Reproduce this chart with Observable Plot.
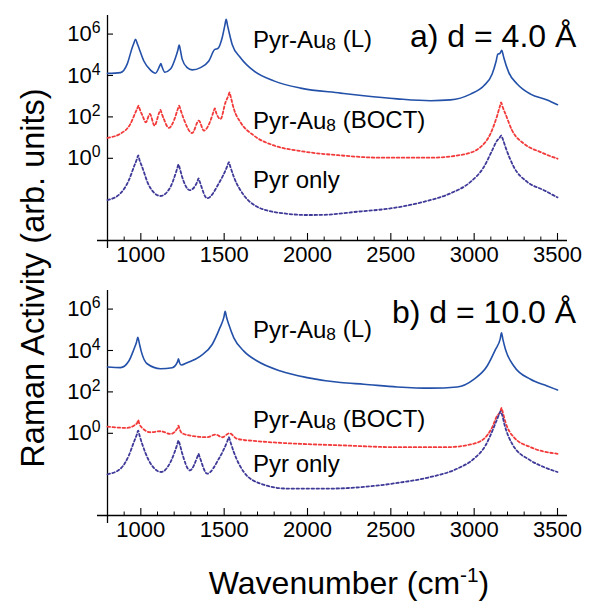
<!DOCTYPE html>
<html><head><meta charset="utf-8">
<script src="https://cdn.jsdelivr.net/npm/d3@7"></script>
<script src="https://cdn.jsdelivr.net/npm/@observablehq/plot@0.6"></script>
<style>
body{margin:0;background:#fff;}
#wrap{position:relative;width:589px;height:603px;font-family:"Liberation Sans",Arial,Helvetica,sans-serif;}
.panel{position:absolute;left:0;}
#overlay{position:absolute;left:0;top:0;pointer-events:none;}
</style></head>
<body><div id="wrap"></div>
<script>
// ---------- data (wavenumber cm-1, log10 of Raman activity) ----------
const a_L_w  = [800,878,918,948,958,968,978,988,1018,1058,1088,1114,1120,1126,1144,1178,1208,1222,1230,1238,1248,1278,1308,1358,1408,1444,1462,1488,1504,1512,1520,1528,1548,1598,1678,1798,1958,2198,2338,2538,2738,2858,2978,3058,3108,3132,3142,3154,3166,3172,3178,3208,3258,3338,3438,3500];
const a_L_lg = [4.10,4.14,4.55,5.34,5.56,5.75,5.56,5.34,4.70,4.26,4.11,4.48,4.58,4.45,4.16,4.31,4.86,5.22,5.47,5.20,4.79,4.38,4.27,4.38,4.70,5.26,5.30,5.82,6.42,6.71,6.42,6.14,5.50,4.86,4.22,3.74,3.39,3.15,3.02,2.87,2.78,2.82,3.10,3.50,4.07,4.70,5.03,5.06,5.22,5.05,4.86,4.14,3.59,3.10,2.82,2.59];

const a_B_w  = [800,878,938,968,978,986,994,1010,1030,1054,1082,1110,1118,1126,1138,1168,1202,1222,1230,1238,1254,1308,1348,1378,1418,1436,1444,1452,1478,1508,1524,1532,1540,1558,1598,1678,1798,1958,2198,2438,2738,2938,3038,3098,3138,3154,3162,3170,3188,3228,3298,3398,3500];
const a_B_lg = [0.99,1.19,1.67,2.22,2.40,2.54,2.36,2.06,1.74,2.14,1.58,2.20,2.34,2.15,1.90,1.47,1.90,2.38,2.54,2.35,1.98,1.22,1.82,1.34,1.82,2.25,2.41,2.20,1.90,2.70,3.00,3.18,2.95,2.39,1.74,1.10,0.62,0.35,0.14,0.03,0.03,0.19,0.54,1.19,2.06,2.50,2.70,2.50,2.14,1.34,0.71,0.30,-0.02];

const a_P_w  = [800,878,928,958,976,984,992,1008,1048,1118,1178,1218,1226,1234,1248,1294,1340,1346,1352,1398,1468,1520,1528,1536,1558,1618,1698,1758,1858,1998,2098,2298,2498,2698,2858,2978,3058,3108,3138,3152,3162,3172,3188,3238,3318,3418,3500];
const a_P_lg = [-2.02,-1.69,-1.06,-0.42,-0.05,0.14,-0.08,-0.42,-1.30,-1.82,-1.38,-0.50,-0.30,-0.50,-0.90,-1.54,-1.10,-0.97,-1.10,-1.93,-1.21,-0.35,-0.18,-0.38,-0.90,-1.78,-2.34,-2.52,-2.66,-2.74,-2.73,-2.58,-2.42,-2.10,-1.69,-1.14,-0.42,0.38,0.86,0.98,1.10,0.92,0.54,-0.42,-1.14,-1.54,-1.89];

const b_L_w  = [800,878,928,958,974,982,990,1002,1038,1118,1188,1220,1226,1232,1242,1278,1358,1428,1474,1498,1506,1514,1528,1558,1618,1698,1838,1998,2198,2338,2538,2738,2898,2998,3078,3128,3156,3164,3172,3188,3238,3338,3438,3500];
const b_L_lg = [3.20,3.17,3.49,4.05,4.40,4.64,4.38,3.97,3.36,3.12,3.17,3.45,3.60,3.42,3.30,3.41,3.73,4.29,5.09,5.60,5.89,5.62,5.25,4.61,3.97,3.49,3.01,2.69,2.45,2.37,2.24,2.18,2.24,2.61,3.25,4.05,4.55,4.85,4.55,4.05,3.25,2.61,2.29,2.09];

const b_B_w  = [800,918,958,978,984,990,1008,1058,1118,1178,1220,1226,1232,1248,1318,1398,1448,1488,1532,1578,1698,1958,2198,2538,2838,2978,3058,3108,3138,3156,3164,3172,3188,3238,3338,3500];
const b_B_lg = [0.32,0.26,0.37,0.50,0.64,0.48,0.26,0.05,0.10,-0.03,0.25,0.37,0.22,0.00,-0.14,-0.19,-0.06,-0.19,0.00,-0.27,-0.38,-0.51,-0.58,-0.67,-0.67,-0.54,-0.27,0.29,0.85,1.02,1.22,1.00,0.53,-0.19,-0.67,-0.99];

const b_P_w  = [800,878,928,958,976,984,992,1008,1048,1122,1178,1218,1226,1234,1248,1294,1340,1346,1352,1398,1468,1520,1528,1536,1558,1618,1718,1878,2138,2338,2538,2738,2898,2998,3068,3118,3142,3150,3158,3168,3182,3228,3338,3418,3500];
const b_P_lg = [-1.98,-1.71,-1.07,-0.43,-0.06,0.13,-0.10,-0.51,-1.31,-1.87,-1.39,-0.55,-0.35,-0.55,-0.96,-1.79,-1.12,-0.99,-1.12,-1.95,-1.23,-0.36,-0.19,-0.38,-0.91,-1.87,-2.43,-2.67,-2.67,-2.59,-2.40,-2.11,-1.71,-1.23,-0.59,0.29,0.77,0.92,1.06,0.88,0.42,-0.51,-1.31,-1.63,-1.87];

const xMajor = [1000,1500,2000,2500,3000,3500];
const xMinor = [900,1100,1200,1300,1400,1600,1700,1800,1900,2100,2200,2300,2400,2600,2700,2800,2900,3100,3200,3300,3400];
const yTicks = [1,1e2,1e4,1e6];
const seriesNames = ["Pyr-Au8 (L)","Pyr-Au8 (BOCT)","Pyr only"];

// ---------- styling ----------
const styles = {
  "Pyr-Au8 (L)":    {stroke:"#2350a8", dash:null, width:1.6},
  "Pyr-Au8 (BOCT)": {stroke:"#f23a3a", dash:"2.6,2.4", width:1.8},
  "Pyr only":       {stroke:"#3f3a98", dash:"2.6,2.4", width:1.8}
};
const yDomain = [1.07e-4, 7.9e6];

function table(ws, lgs, name){ return ws.map((w,i)=>({w, v: Math.pow(10, lgs[i]), s:name})); }

function panel(curves, top){
  const H = 270, mt = 15, mb = 30, plotH = H - mt - mb;
  const marks = [
    Plot.ruleY([yDomain[0]], {stroke:"#000", strokeWidth:1.3}),
    Plot.ruleX([800], {y1: yDomain[0]*Math.pow(10,-8/20.7), y2: yDomain[1], stroke:"#000", strokeWidth:1.3}),
    Plot.ruleX(xMinor, {insetTop: plotH-3.5, stroke:"#000", strokeWidth:1}),
    Plot.ruleX(xMajor, {insetTop: plotH-7, stroke:"#000", strokeWidth:1.1}),
    Plot.ruleY(yTicks, {x1: 800, x2: 836, stroke:"#000", strokeWidth:1.1}),
    Plot.axisX({ticks: xMajor, tickSize: 0, tickPadding: 6, tickFormat: d=>String(d), fontSize: 22, label: null}),
    Plot.axisY({ticks: yTicks, tickSize: 0, tickPadding: -3, tickFormat: d=>"10^"+Math.round(Math.log10(d)), fontSize: 22, label: null})
  ];
  for (const c of curves){
    const st = styles[c.s];
    marks.push(Plot.line(c.data, {x:"w", y:"v", stroke: st.stroke, strokeWidth: st.width,
      strokeDasharray: st.dash || undefined, curve:"monotone-x"}));
  }
  const svg = Plot.plot({
    width: 589, height: H, marginLeft: 97, marginRight: 22, marginTop: mt, marginBottom: mb,
    x: {domain: [740, 3560], axis: null, label: null}, y: {type:"log", domain: yDomain, axis: null, label: null},
    style: {fontFamily: '"Liberation Sans", Arial, sans-serif', fontSize: "22px", color:"#000", background:"transparent", overflow:"visible"},
    marks
  });
  svg.querySelectorAll('[aria-label="y-axis tick label"] text').forEach(t=>{
    const e = t.textContent.split("^")[1];
    t.innerHTML = '10<tspan dy="-0.5em" font-size="0.72em">'+e+'</tspan>';
  });
  svg.classList.add("panel");
  svg.style.top = top + "px";
  svg.style.position = "absolute";
  return svg;
}

const wrap = document.getElementById("wrap");
wrap.append(panel([
  {s: seriesNames[0], data: table(a_L_w, a_L_lg, seriesNames[0])},
  {s: seriesNames[1], data: table(a_B_w, a_B_lg, seriesNames[1])},
  {s: seriesNames[2], data: table(a_P_w, a_P_lg, seriesNames[2])}
], 0));
wrap.append(panel([
  {s: seriesNames[0], data: table(b_L_w, b_L_lg, seriesNames[0])},
  {s: seriesNames[1], data: table(b_B_w, b_B_lg, seriesNames[1])},
  {s: seriesNames[2], data: table(b_P_w, b_P_lg, seriesNames[2])}
], 275));

// ---------- text overlay ----------
const NS = "http://www.w3.org/2000/svg";
const ov = document.createElementNS(NS, "svg");
ov.setAttribute("id","overlay"); ov.setAttribute("width",589); ov.setAttribute("height",603);
ov.setAttribute("font-family",'"Liberation Sans", Arial, sans-serif');
wrap.append(ov);
function txt(x, y, html, size, anchor, transform){
  const t = document.createElementNS(NS,"text");
  t.setAttribute("x", x); t.setAttribute("y", y);
  t.setAttribute("font-size", size);
  if (anchor) t.setAttribute("text-anchor", anchor);
  if (transform) t.setAttribute("transform", transform);
  t.innerHTML = html;
  ov.append(t);
}
const sub8 = 'Pyr-Au<tspan font-size="0.72em" dy="0.12em">8</tspan><tspan dy="-0.12em"> </tspan>';
const labelPos = [[48,129,188],[338,428,472]];
[0,1].forEach(p=>{
  txt(253, labelPos[p][0], sub8+'(L)', 24);
  txt(253, labelPos[p][1], sub8+'(BOCT)', 24);
  txt(253, labelPos[p][2], 'Pyr only', 24);
});
txt(410, 47, 'a) d = 4.0 Å', 32);
txt(392, 323, 'b) d = 10.0 Å', 32);
txt(0, 0, 'Raman Activity (arb. units)', 32.5, "middle", "translate(44,278) rotate(-90)");
txt(349, 594, 'Wavenumber (cm<tspan font-size="0.65em" dy="-0.6em">-1</tspan><tspan dy="0.39em">)</tspan>', 32, "middle");
</script></body></html>
